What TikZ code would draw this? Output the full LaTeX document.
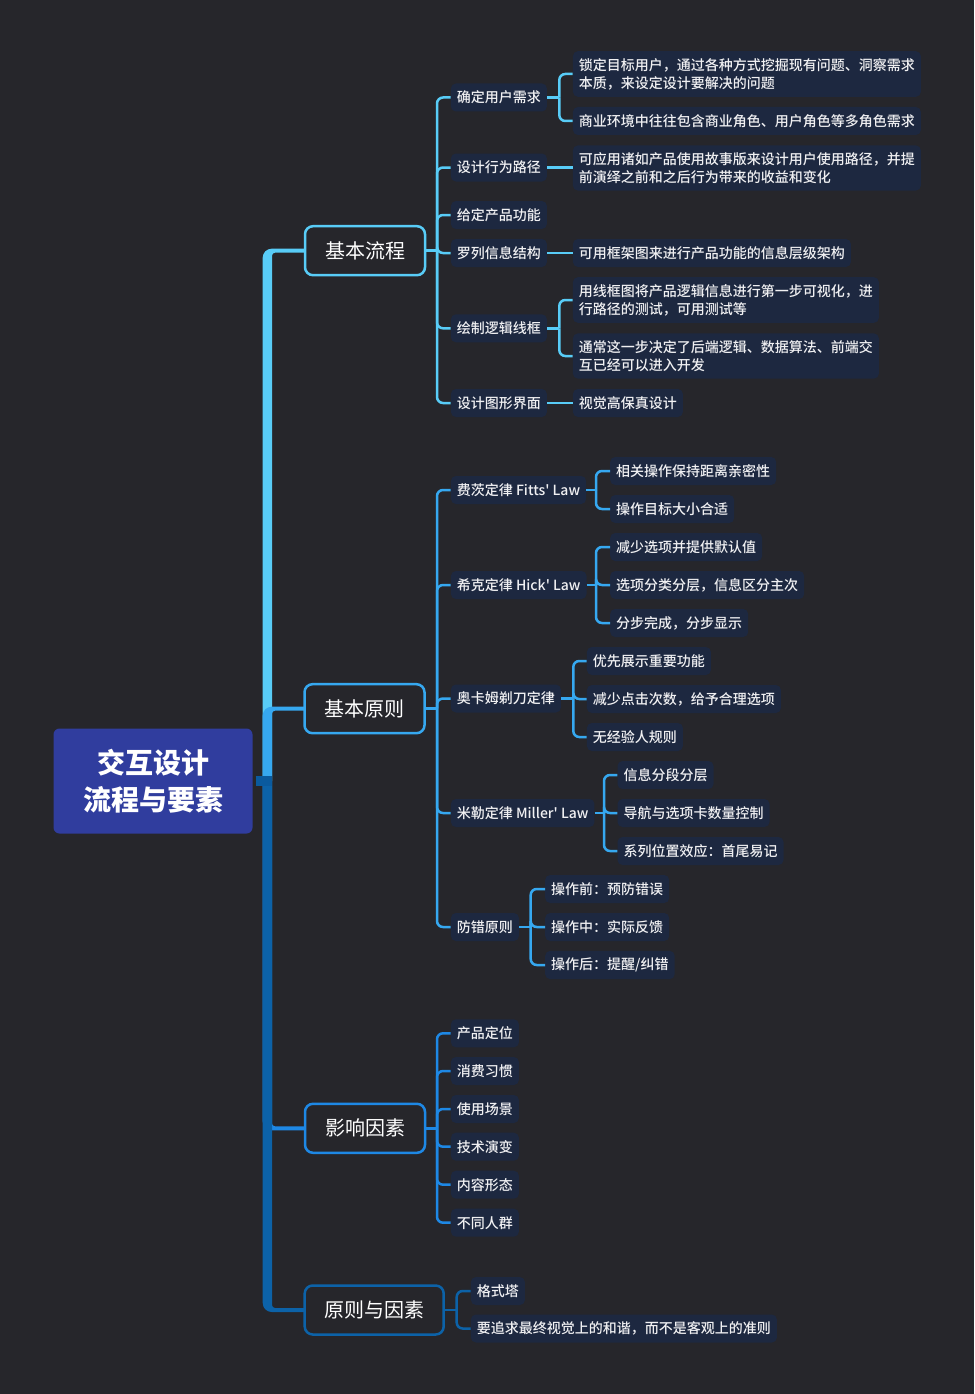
\documentclass[tikz,border=0pt]{standalone}
\usepackage{fontspec}
\setmainfont{Noto Sans CJK SC}[Ligatures=TeXOff]
\newfontfamily\medfont{Noto Sans CJK SC Medium}[Ligatures=TeXOff]
\definecolor{bg}{HTML}{26262B}
\definecolor{leaffill}{HTML}{1D2840}
\definecolor{txt}{HTML}{F0F0F2}
\definecolor{cA}{HTML}{58CCF7}
\definecolor{cB}{HTML}{36A8F0}
\definecolor{cC}{HTML}{1E88E5}
\definecolor{cD}{HTML}{0C62A8}
\definecolor{rootc}{HTML}{303D9E}
\definecolor{stubc}{HTML}{0A5A9E}
\newcommand\upbranch[3]{\fill[#1] (262.7,781) -- (262.7,#2-2+9) arc[start angle=180,end angle=270,radius=9] -- (#3,#2-2) -- (#3,#2+2) -- (275,#2+2) arc[start angle=270,end angle=180,radius=3] -- (272,781) -- cycle;}
\newcommand\dnbranch[3]{\fill[#1] (262.7,781) -- (262.7,#2+2-9) arc[start angle=180,end angle=90,radius=9] -- (#3,#2+2) -- (#3,#2-2) -- (275,#2-2) arc[start angle=90,end angle=180,radius=3] -- (272,781) -- cycle;}
\tikzset{
  leaf/.style={fill=leaffill, text=txt, rounded corners=5pt, inner xsep=6pt, inner ysep=7pt,
    minimum height=28pt, anchor=west, font=\medfont\fontsize{14}{18}\selectfont, align=left},
  mainbox/.style={draw=#1, line width=2.5pt, rounded corners=8pt, minimum width=120pt,
    minimum height=49pt, text=white, font=\fontsize{20}{24}\selectfont},
  conn/.style={draw=#1, line width=2.5pt, rounded corners=6pt},
}
\begin{document}
\begin{tikzpicture}[x=1pt,y=-1pt]
\fill[bg] (0,0) rectangle (974,1394);
\useasboundingbox (0,0) rectangle (974,1394);
% trunk
\upbranch{cA}{250.7}{305}
\upbranch{cB}{708.7}{305}
\dnbranch{cC}{1128.3}{305}
\dnbranch{cD}{1310}{305}
\coordinate (stubL) at (255.7,781);
\coordinate (stubR) at (272,781);
\draw[stubc, line width=9.5pt] (stubL) -- (stubR);
% root
\node[fill=rootc, rounded corners=6pt, minimum width=199pt, minimum height=105pt, text=white,
  font=\fontsize{28}{36.7}\selectfont\bfseries, align=center] (root) at (153,781) {交互设计\\流程与要素};
% main nodes
\node[mainbox=cA] (m1) at (365,250.7) {基本流程};
\node[mainbox=cB] (m2) at (364.5,708.7) {基本原则};
\node[mainbox=cC] (m3) at (365,1128.3) {影响因素};
\node[mainbox=cD, minimum width=139pt] (m4) at (374.2,1310) {原则与因素};

% ---------- branch 1
\node[leaf] (a1) at (450.7,97.5) {确定用户需求};
\node[leaf] (a2) at (450.7,167.5) {设计行为路径};
\node[leaf] (a3) at (450.7,215) {给定产品功能};
\node[leaf] (a4) at (450.7,253) {罗列信息结构};
\node[leaf] (a5) at (450.7,328.3) {绘制逻辑线框};
\node[leaf] (a6) at (450.7,403) {设计图形界面};
\coordinate (j1) at (437,250.7);
\draw[conn=cA] (m1.east) -- (j1);
\foreach \n in {a1,a2,a3,a4,a5,a6} \draw[conn=cA] (j1) |- (\n.west);

\node[leaf] (g11) at (572.7,74) {锁定目标用户，通过各种方式挖掘现有问题、洞察需求\\本质，来设定设计要解决的问题};
\node[leaf] (g12) at (572.7,121) {商业环境中往往包含商业角色、用户角色等多角色需求};
\coordinate (j11) at (559.3,97.5);
\draw[conn=cA] (a1.east) -- (j11);
\draw[conn=cA] (j11) |- (g11.west);
\draw[conn=cA] (j11) |- (g12.west);
\node[leaf] (g21) at (572.7,168) {可应用诸如产品使用故事版来设计用户使用路径，并提\\前演绎之前和之后行为带来的收益和变化};
\draw[conn=cA] (a2.east) -- (g21.west |- a2.east);
\node[leaf] (g41) at (572.7,253) {可用框架图来进行产品功能的信息层级架构};
\draw[conn=cA] (a4.east) -- (g41.west);
\node[leaf] (g51) at (572.7,300) {用线框图将产品逻辑信息进行第一步可视化，进\\行路径的测试，可用测试等};
\node[leaf] (g52) at (572.7,356) {通常这一步决定了后端逻辑、数据算法、前端交\\互已经可以进入开发};
\coordinate (j51) at (559.3,328.3);
\draw[conn=cA] (a5.east) -- (j51);
\draw[conn=cA] (j51) |- (g51.west);
\draw[conn=cA] (j51) |- (g52.west);
\node[leaf] (g61) at (572.7,403) {视觉高保真设计};
\draw[conn=cA] (a6.east) -- (g61.west);

% ---------- branch 2
\node[leaf] (b1) at (450.7,490) {费茨定律 Fitts' Law};
\node[leaf] (b2) at (450.7,585) {希克定律 Hick' Law};
\node[leaf] (b3) at (450.7,698.5) {奥卡姆剃刀定律};
\node[leaf] (b4) at (450.7,813) {米勒定律 Miller' Law};
\node[leaf] (b5) at (450.7,927) {防错原则};
\coordinate (j2) at (437,708.7);
\draw[conn=cB] (m2.east) -- (j2);
\foreach \n in {b1,b2,b3,b4,b5} \draw[conn=cB] (j2) |- (\n.west);

\node[leaf] (h11) at (610,471) {相关操作保持距离亲密性};
\node[leaf] (h12) at (610,509) {操作目标大小合适};
\coordinate (j21) at (596,490);
\draw[conn=cB] (b1.east) -- (j21);
\foreach \n in {h11,h12} \draw[conn=cB] (j21) |- (\n.west);

\node[leaf] (h21) at (610,547) {减少选项并提供默认值};
\node[leaf] (h22) at (610,585) {选项分类分层，信息区分主次};
\node[leaf] (h23) at (610,623) {分步完成，分步显示};
\coordinate (j22) at (596,585);
\draw[conn=cB] (b2.east) -- (j22);
\foreach \n in {h21,h22,h23} \draw[conn=cB] (j22) |- (\n.west);

\node[leaf] (h31) at (586.7,661) {优先展示重要功能};
\node[leaf] (h32) at (586.7,699) {减少点击次数，给予合理选项};
\node[leaf] (h33) at (586.7,737) {无经验人规则};
\coordinate (j23) at (573.3,698.5);
\draw[conn=cB] (b3.east) -- (j23);
\foreach \n in {h31,h32,h33} \draw[conn=cB] (j23) |- (\n.west);

\node[leaf] (h41) at (617.3,775) {信息分段分层};
\node[leaf] (h42) at (617.3,813) {导航与选项卡数量控制};
\node[leaf] (h43) at (617.3,851) {系列位置效应：首尾易记};
\coordinate (j24) at (604,813);
\draw[conn=cB] (b4.east) -- (j24);
\foreach \n in {h41,h42,h43} \draw[conn=cB] (j24) |- (\n.west);

\node[leaf] (h51) at (545,889) {操作前：预防错误};
\node[leaf] (h52) at (545,927) {操作中：实际反馈};
\node[leaf] (h53) at (545,965) {操作后：提醒/纠错};
\coordinate (j25) at (530.7,927);
\draw[conn=cB] (b5.east) -- (j25);
\foreach \n in {h51,h52,h53} \draw[conn=cB] (j25) |- (\n.west);

% ---------- branch 3
\node[leaf] (c1) at (450.7,1033.3) {产品定位};
\node[leaf] (c2) at (450.7,1071) {消费习惯};
\node[leaf] (c3) at (450.7,1109) {使用场景};
\node[leaf] (c4) at (450.7,1146.7) {技术演变};
\node[leaf] (c5) at (450.7,1184.7) {内容形态};
\node[leaf] (c6) at (450.7,1222.7) {不同人群};
\coordinate (j3) at (437,1128.3);
\draw[conn=cC] (m3.east) -- (j3);
\foreach \n in {c1,c2,c3,c4,c5,c6} \draw[conn=cC] (j3) |- (\n.west);

% ---------- branch 4
\node[leaf] (d1) at (470.7,1291) {格式塔};
\node[leaf] (d2) at (470.7,1328.5) {要追求最终视觉上的和谐，而不是客观上的准则};
\coordinate (j4) at (456.7,1310);
\draw[conn=cD] (m4.east) -- (j4);
\foreach \n in {d1,d2} \draw[conn=cD] (j4) |- (\n.west);
\end{tikzpicture}
\end{document}
